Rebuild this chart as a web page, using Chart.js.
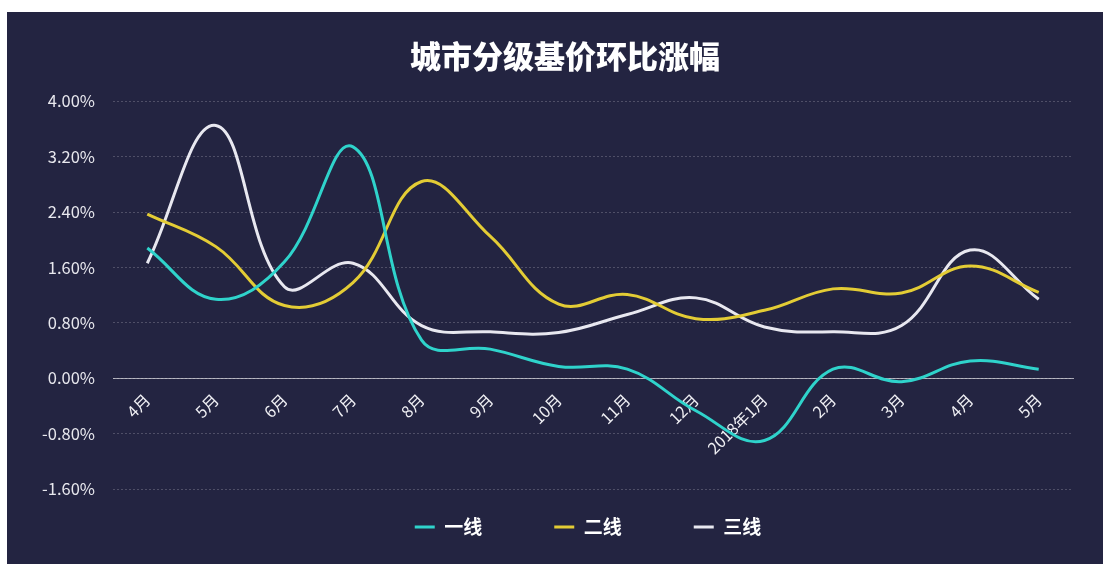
<!DOCTYPE html>
<html>
<head>
<meta charset="utf-8">
<script src="https://cdn.jsdelivr.net/npm/chart.js@4/dist/chart.umd.min.js"></script>
<style>
  html, body { margin: 0; padding: 0; background: #ffffff; }
  #wrap { position: absolute; left: 7px; top: 12px; width: 1096px; height: 552px; background: #232441; }
</style>
</head>
<body>
<div id="wrap"><canvas id="myChart1"></canvas></div>
<script>
  const months = ['4月', '5月', '6月', '7月', '8月', '9月', '10月', '11月', '12月', '2018年1月', '2月', '3月', '4月', '5月'];
  const tier1 = [1.88, 1.14, 1.68, 3.34, 0.55, 0.42, 0.17, 0.13, -0.47, -0.90, 0.13, -0.05, 0.25, 0.13];
  const tier2 = [2.37, 1.90, 1.05, 1.38, 2.84, 2.05, 1.07, 1.21, 0.86, 0.98, 1.29, 1.23, 1.62, 1.24];
  const tier3 = [1.66, 3.65, 1.32, 1.66, 0.76, 0.67, 0.66, 0.92, 1.16, 0.74, 0.67, 0.76, 1.85, 1.14];
  const seriesNames = ['一线', '二线', '三线'];
  const seriesColors = ['#2fd3cb', '#e3cc35', '#e8e8f0'];

  const yMin = -1.6;
  const yMax = 4.0;
  const yStep = 0.8;

  const font = '"Noto Sans CJK SC", "Noto Sans", sans-serif';
  const legendFontSize = 19;
  const legendGap = 72;

  function makeSet(i, values) {
    return {
      label: seriesNames[i],
      data: values,
      borderColor: seriesColors[i],
      backgroundColor: seriesColors[i],
      borderWidth: 3,
      pointRadius: 0,
      pointHoverRadius: 0,
      pointStyle: 'line',
      tension: 0.4,
      fill: false
    };
  }

  const data1 = {
    labels: months,
    datasets: [makeSet(0, tier1), makeSet(1, tier2), makeSet(2, tier3)]
  };

  // nudge title / legend to where the original put them
  const shiftPlugin = {
    id: 'shiftPlugin',
    afterLayout(chart) {
      const t = chart.titleBlock;
      t.left += 25; t.right += 25;
      const lg = chart.legend;
      lg.left += 48; lg.right += 48;
      lg.top = chart.height - 37 - legendGap - legendFontSize / 2;
      lg.bottom = chart.height;
    }
  };

  const config1 = {
    type: 'line',
    data: data1,
    options: {
      responsive: true,
      maintainAspectRatio: false,
      animation: false,
      layout: { padding: { left: 0, right: 30, top: 0, bottom: 35 } },
      plugins: {
        title: {
          display: true,
          text: '城市分级基价环比涨幅',
          color: '#ffffff',
          font: { family: font, size: 31, weight: '900' },
          padding: { top: 26, bottom: 26 }
        },
        legend: {
          position: 'bottom',
          maxHeight: 40,
          labels: {
            color: '#ffffff',
            font: { family: font, size: legendFontSize, weight: 'bold' },
            usePointStyle: true,
            pointStyleWidth: 20,
            padding: legendGap
          }
        },
        tooltip: { enabled: false }
      },
      scales: {
        x: {
          type: 'category',
          offset: true,
          position: { y: 0 },
          grid: { display: false, drawTicks: false },
          border: { display: true, color: 'rgba(255,255,255,0.6)', width: 1 },
          ticks: {
            color: '#f0f0f4',
            font: { family: font, size: 16 },
            maxRotation: 45,
            minRotation: 45,
            padding: 12,
            autoSkip: false
          }
        },
        y: {
          min: yMin,
          max: yMax,
          afterFit(scale) { scale.width = 106; },
          grid: { color: 'rgba(255,255,255,0.2)', drawTicks: false },
          border: { display: false, dash: [2, 2] },
          ticks: {
            stepSize: yStep,
            color: '#e8e8ee',
            font: { family: font, size: 16.5 },
            padding: 18,
            callback: (v) => (Math.abs(v) < 1e-9 ? 0 : v).toFixed(2) + '%'
          }
        }
      }
    },
    plugins: [shiftPlugin]
  };

  const myChart = new Chart(
    document.getElementById('myChart1'),
    config1
  );
</script>
</body>
</html>
